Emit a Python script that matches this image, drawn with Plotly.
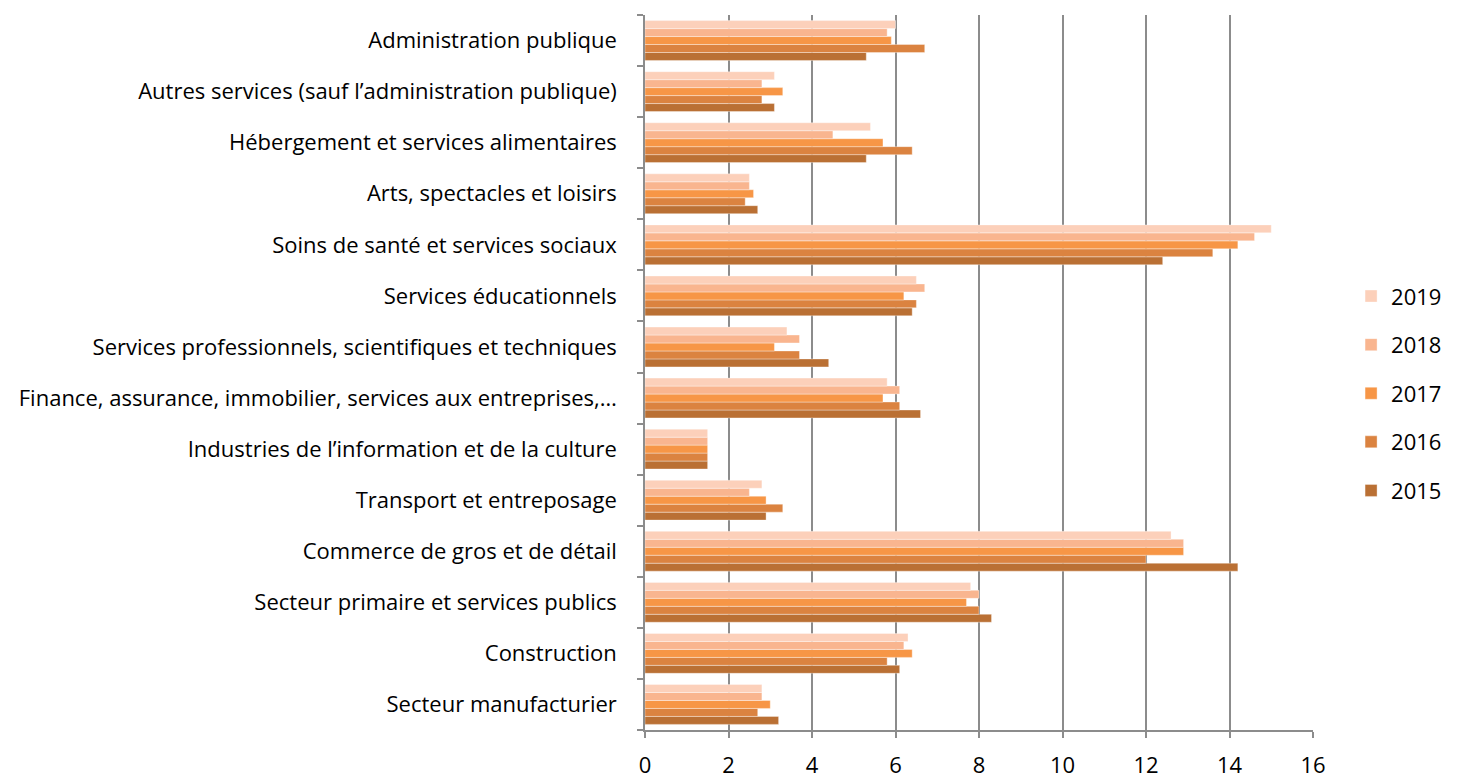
import plotly.graph_objects as go

categories = [
    "Secteur manufacturier",
    "Construction",
    "Secteur primaire et services publics",
    "Commerce de gros et de détail",
    "Transport et entreposage",
    "Industries de l’information et de la culture",
    "Finance, assurance, immobilier, services aux entreprises,…",
    "Services professionnels, scientifiques et techniques",
    "Services éducationnels",
    "Soins de santé et services sociaux",
    "Arts, spectacles et loisirs",
    "Hébergement et services alimentaires",
    "Autres services (sauf l’administration publique)",
    "Administration publique",
]

v2015 = [3.2, 6.1, 8.3, 14.2, 2.9, 1.5, 6.6, 4.4, 6.4, 12.4, 2.7, 5.3, 3.1, 5.3]
v2016 = [2.7, 5.8, 8.0, 12.0, 3.3, 1.5, 6.1, 3.7, 6.5, 13.6, 2.4, 6.4, 2.8, 6.7]
v2017 = [3.0, 6.4, 7.7, 12.9, 2.9, 1.5, 5.7, 3.1, 6.2, 14.2, 2.6, 5.7, 3.3, 5.9]
v2018 = [2.8, 6.2, 8.0, 12.9, 2.5, 1.5, 6.1, 3.7, 6.7, 14.6, 2.5, 4.5, 2.8, 5.8]
v2019 = [2.8, 6.3, 7.8, 12.6, 2.8, 1.5, 5.8, 3.4, 6.5, 15.0, 2.5, 5.4, 3.1, 6.0]

years = ["2015", "2016", "2017", "2018", "2019"]
series = [v2015, v2016, v2017, v2018, v2019]
colors = ["#BA7034", "#DB8340", "#F79646", "#F9B58F", "#FCD0BA"]

fig = go.Figure()
for i, (y, vals, c) in enumerate(zip(years, series, colors)):
    fig.add_trace(go.Bar(
        y=categories, x=vals, name=y, orientation="h",
        legendgroup=y,
        legendrank=1000 - i,
        marker=dict(color=c, line=dict(color="rgba(255,255,255,0.6)", width=0.6)),
    ))

font_family = "Open Sans, Noto Sans, sans-serif"
fig.update_layout(
    barmode="group",
    bargap=0.22,
    bargroupgap=0,
    width=1451, height=773,
    margin=dict(l=637, r=146, t=7, b=51, autoexpand=False),
    plot_bgcolor="white", paper_bgcolor="white",
    font=dict(family=font_family, size=22, color="#000000"),
    legend=dict(
        traceorder="grouped",
        x=1.057, xanchor="left", y=0.471, yanchor="middle",
        font=dict(size=22),
        itemwidth=30,
        tracegroupgap=17,
        bgcolor="rgba(0,0,0,0)",
    ),
    xaxis=dict(
        range=[0, 16], dtick=2, tick0=0,
        showgrid=True, gridcolor="#8C8C8C", gridwidth=1.5,
        showline=True, linecolor="#8C8C8C", linewidth=1.5,
        ticks="outside", ticklen=6, tickcolor="#8C8C8C", tickwidth=1.5,
        ticklabelstandoff=9,
        zeroline=False,
        automargin=False,
        fixedrange=True,
    ),
    yaxis=dict(
        showline=True, linecolor="#8C8C8C", linewidth=1.5,
        ticks="outside", ticklen=6, tickcolor="#8C8C8C", tickwidth=1.5,
        tickson="boundaries",
        ticklabelstandoff=22,
        showgrid=False,
        automargin=False,
        fixedrange=True,
    ),
)

fig.write_html("out.html")
